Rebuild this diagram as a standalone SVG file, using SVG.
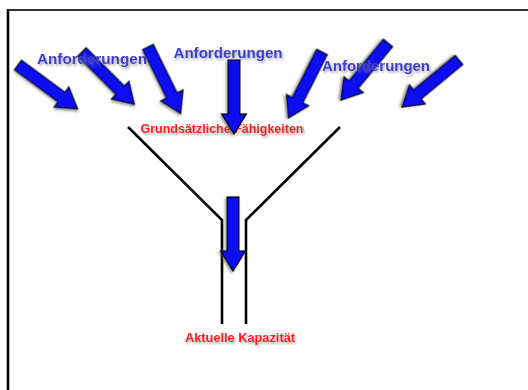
<svg xmlns="http://www.w3.org/2000/svg" xmlns:xlink="http://www.w3.org/1999/xlink" width="528" height="390" viewBox="0 0 528 390">
<style>
.frame{stroke-linecap:square}
.funnel{fill:none;stroke:#000;stroke-width:2.6}
.arrow{fill:#0a0af2;stroke:#000;stroke-width:1.2;stroke-linejoin:miter;filter:url(#shadow)}
.req{font-family:"Liberation Sans",Arial,sans-serif;font-weight:bold;font-size:15px;fill:#3c3cd2;text-anchor:middle;filter:url(#tshadow)}
.cap{font-family:"Liberation Sans",Arial,sans-serif;font-weight:bold;font-size:13px;fill:#ff1f1f;text-anchor:middle;filter:url(#tshadow)}
</style>
<defs>
<filter id="shadow" x="-30%" y="-30%" width="160%" height="160%">
<feDropShadow dx="1.5" dy="1.5" stdDeviation="1" flood-color="#555" flood-opacity="0.6"/>
</filter>
<filter id="tshadow" x="-10%" y="-40%" width="120%" height="180%">
<feDropShadow dx="1.5" dy="2" stdDeviation="1" flood-color="#777" flood-opacity="0.6"/>
</filter>
<path id="blk" d="M0,-6 L54,-6 L54,-12.5 L74,0 L54,12.5 L54,6 L0,6 Z"/>
</defs>
<rect width="528" height="390" fill="#fff"/>
<g id="frame">
<line x1="7" y1="10" x2="528" y2="10" stroke="#333" stroke-width="2.2"/>
<line x1="8" y1="9" x2="8" y2="390" stroke="#000" stroke-width="2.6"/>
</g>
<g id="funnel">
<polyline class="funnel" points="128,127 222,220 222,324"/>
<polyline class="funnel" points="340,127 246,220 246,324"/>
</g>
<g id="label-grund">
<text class="cap" x="222" y="133" textLength="163" lengthAdjust="spacingAndGlyphs">Grundsätzliche Fähigkeiten</text>
</g>
<g id="label-kapazitaet">
<text class="cap" x="240" y="342" textLength="110" lengthAdjust="spacingAndGlyphs">Aktuelle Kapazität</text>
</g>
<g id="connectors">
<use xlink:href="#blk" href="#blk" class="arrow" transform="translate(18,65) rotate(36.4)"/>
<use xlink:href="#blk" href="#blk" class="arrow" transform="translate(82,52) rotate(45)"/>
<use xlink:href="#blk" href="#blk" class="arrow" transform="translate(148,47) rotate(63.8)"/>
<use xlink:href="#blk" href="#blk" class="arrow" transform="translate(234,60) rotate(90)"/>
<use xlink:href="#blk" href="#blk" class="arrow" transform="translate(322,52) rotate(116.9)"/>
<use xlink:href="#blk" href="#blk" class="arrow" transform="translate(388,43) rotate(129.5)"/>
<use xlink:href="#blk" href="#blk" class="arrow" transform="translate(459,60) rotate(140.4)"/>
<use xlink:href="#blk" href="#blk" class="arrow" transform="translate(233,197) rotate(90)"/>
</g>
<g id="req-1"><text class="req" x="92" y="64" textLength="110" lengthAdjust="spacingAndGlyphs">Anforderungen</text></g>
<g id="req-2"><text class="req" x="228" y="58" textLength="109" lengthAdjust="spacingAndGlyphs">Anforderungen</text></g>
<g id="req-3"><text class="req" x="376" y="71" textLength="108" lengthAdjust="spacingAndGlyphs">Anforderungen</text></g>
</svg>
